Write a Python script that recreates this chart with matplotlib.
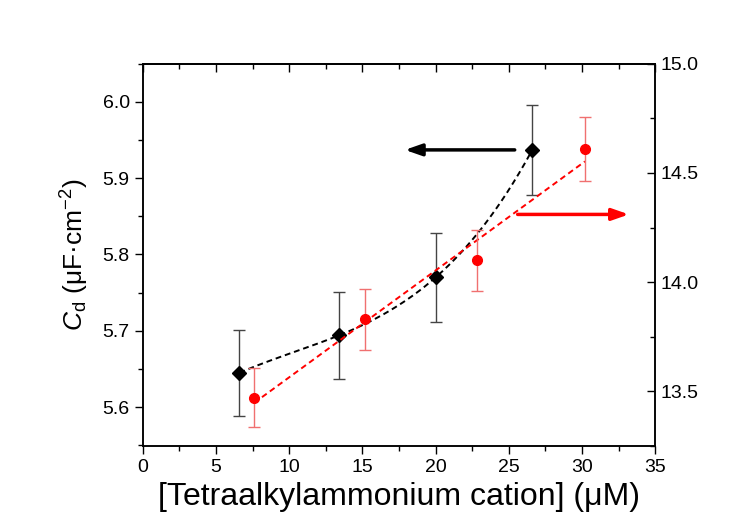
import matplotlib
matplotlib.use("Agg")
import matplotlib.pyplot as plt
import numpy as np
from matplotlib.ticker import MultipleLocator, FormatStrFormatter, NullFormatter

plt.rcParams["font.family"] = ["Liberation Sans", "DejaVu Sans"]
plt.rcParams["mathtext.fontset"] = "custom"
plt.rcParams["mathtext.rm"] = "Liberation Sans"
plt.rcParams["mathtext.it"] = "Liberation Sans:italic"

# Cd (left axis, black diamonds)
x_cd = [6.6, 13.4, 20.0, 26.6]
cd = [5.645, 5.694, 5.770, 5.937]
cd_err = [0.056, 0.057, 0.058, 0.059]

# right axis, red circles
x_r = [7.6, 15.2, 22.8, 30.2]
r_val = [13.47, 13.83, 14.10, 14.61]
r_err = [0.135, 0.14, 0.14, 0.145]

fig = plt.figure(figsize=(7.48, 5.26), dpi=100)
ax = fig.add_axes([0.191, 0.152, 0.685, 0.727])
ax2 = ax.twinx()

# black: smooth curve through the points
p3 = np.polyfit(x_cd, cd, 3)
xs = np.linspace(min(x_cd), max(x_cd), 200)
ax.plot(xs, np.polyval(p3, xs), color="black", ls=(0, (3, 2)), lw=1.4, zorder=2)
ax.errorbar(x_cd, cd, yerr=cd_err, fmt="D", color="black", ms=7,
            ecolor="#444444", elinewidth=1, capsize=4, capthick=1, zorder=3)

# red: linear fit
p1 = np.polyfit(x_r, r_val, 1)
xl = np.array([min(x_r), max(x_r)])
ax2.plot(xl, np.polyval(p1, xl), color="red", ls=(0, (3, 2)), lw=1.4, zorder=2)
ax2.errorbar(x_r, r_val, yerr=r_err, fmt="o", color="red", ms=7,
             ecolor="#f07070", elinewidth=1, capsize=4, capthick=1, zorder=3)

# direction arrows
ax.annotate("", xy=(17.9, 5.937), xytext=(25.4, 5.937),
            arrowprops=dict(arrowstyle="-|>,head_length=1.0,head_width=0.35",
                            color="black", lw=2.5, shrinkA=0, shrinkB=0))
ax2.annotate("", xy=(33.2, 14.31), xytext=(25.6, 14.31),
             arrowprops=dict(arrowstyle="-|>,head_length=1.0,head_width=0.35",
                             color="red", lw=2.5, shrinkA=0, shrinkB=0))

ax.set_xlim(0, 35)
ax.set_ylim(5.549, 6.05)
ax2.set_ylim(13.25, 15.0)

ax.xaxis.set_major_locator(MultipleLocator(5))
ax.xaxis.set_minor_locator(MultipleLocator(2.5))
ax.yaxis.set_major_locator(MultipleLocator(0.1))
ax.yaxis.set_minor_locator(MultipleLocator(0.05))
ax2.yaxis.set_major_locator(MultipleLocator(0.5))
ax2.yaxis.set_minor_locator(MultipleLocator(0.25))

ax.tick_params(axis="both", which="major", length=6, width=1, labelsize=14)
ax.tick_params(axis="both", which="minor", length=3.5, width=1)
ax2.tick_params(axis="y", which="major", direction="in", length=6, width=1,
                labelsize=14)
ax2.tick_params(axis="y", which="minor", direction="in", length=3.5, width=1)
ax.yaxis.set_major_formatter(FormatStrFormatter("%.1f"))
ax2.yaxis.set_major_formatter(FormatStrFormatter("%.1f"))

# top axis: inward ticks, no labels
top = ax.secondary_xaxis("top")
top.xaxis.set_major_locator(MultipleLocator(5))
top.xaxis.set_minor_locator(MultipleLocator(2.5))
top.xaxis.set_major_formatter(NullFormatter())
top.tick_params(which="major", direction="in", length=6, width=1)
top.tick_params(which="minor", direction="in", length=3.5, width=1)
top.spines["top"].set_linewidth(1.1)

for a in (ax, ax2):
    for s in a.spines.values():
        s.set_linewidth(1.1)

ax.set_xlabel("[Tetraalkylammonium cation] (μM)", fontsize=23, labelpad=4)
ax.set_ylabel(r"$C_\mathrm{d}$ (μF·cm$^{-2}$)", fontsize=19, labelpad=8)

fig.savefig("out.png", dpi=100, facecolor="white")
